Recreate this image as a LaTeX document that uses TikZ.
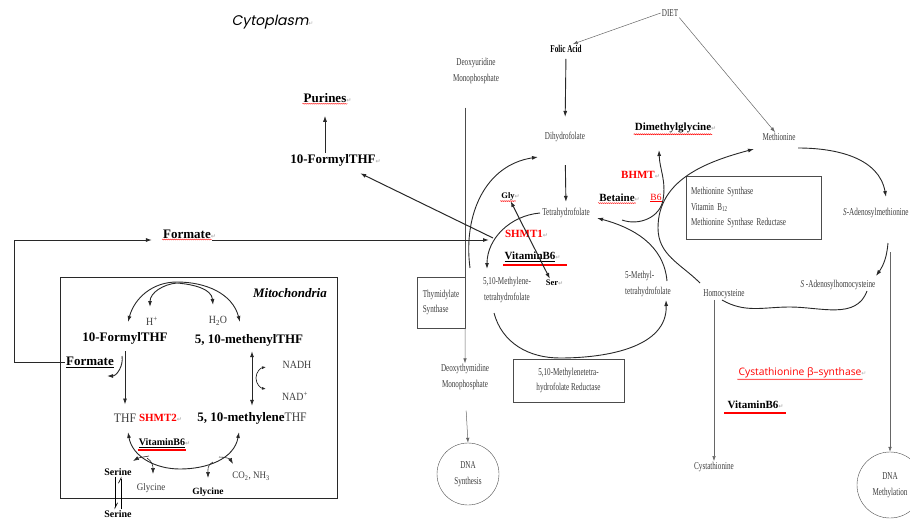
\documentclass[tikz,border=0pt]{standalone}
\usepackage{fontspec}
\setmainfont{Liberation Serif}
\newfontfamily\thinserif[FakeStretch=0.68]{Liberation Serif}
\newfontfamily\mitoserif[FakeStretch=0.9]{Liberation Serif}
\newfontfamily\cytofont[FakeSlant=0.2]{Poppins}
\newfontfamily\cbsfont{Open Sans}
\newfontfamily\markfont{DejaVu Sans}
\usetikzlibrary{arrows.meta,decorations.pathmorphing}
\definecolor{txtgray}{RGB}{60,60,60}
\definecolor{linegray}{RGB}{40,40,40}
\newcommand{\ret}{\rlap{\markfont\fontsize{6}{6}\selectfont\color{gray!60}↵}}

\tikzset{
  gry/.style={font=\thinserif\fontsize{10.5}{15.5}\selectfont, text=txtgray, align=center, inner sep=1pt},
  mgry/.style={font=\mitoserif\fontsize{11}{12}\selectfont, text=txtgray, inner sep=1pt},
  bld/.style={font=\bfseries\fontsize{13}{14}\selectfont, inner sep=1pt},
  sbld/.style={font=\bfseries\fontsize{11}{12}\selectfont, inner sep=1pt},
  enz/.style={font=\bfseries\fontsize{11}{12}\selectfont, text=red, inner sep=1pt},
  flow/.style={-{Latex[length=6pt,width=4pt]}, line width=0.9pt, linegray},
  twoway/.style={{Latex[length=6pt,width=4pt]}-{Latex[length=6pt,width=4pt]}, line width=0.9pt, linegray},
  thinflow/.style={-{Latex[length=5pt,width=3.5pt]}, line width=0.5pt, black!60},
  spell/.style={red, line width=0.4pt, decorate, decoration={snake, amplitude=0.5pt, segment length=2pt}},
  redline/.style={red, line width=2pt},
}

\begin{document}
\begin{tikzpicture}[x=1pt,y=1pt]
  \useasboundingbox (0,0) rectangle (910,-519);

  \node[font=\cytofont\fontsize{14}{16}\selectfont] (cyto) at (270,-22) {Cytoplasm\ret};

  % Folatzyklus
  \node[gry] (diet) at (670,-13) {DIET};
  \node[gry, font=\thinserif\bfseries\fontsize{10.5}{11}\selectfont, text=black] (folic) at (566,-49) {Folic Acid};
  \node[gry] (dump) at (476,-71) {Deoxyuridine\\Monophosphate};
  \node[gry] (dhf) at (565,-137) {Dihydrofolate};
  \node[gry] (thf) at (566,-213) {Tetrahydrofolate};
  \node[gry] (mthf) at (507,-290) {5,10-Methylene-\\tetrahydrofolate};
  \node[gry, align=left, anchor=west] (methyl) at (624,-284) {5-Methyl-\\tetrahydrofolate};
  \node[gry, draw=black!70, align=left, minimum width=48pt, minimum height=51pt] (ts) at (441,-302.5) {Thymidylate\\Synthase};
  \node[gry] (dtmp) at (465,-377) {Deoxythymidine\\Monophosphate};
  \node[gry, draw=black!70, circle, minimum size=62pt] (dnas) at (468,-474) {DNA\\Synthesis};
  \node[gry, draw=black!70, minimum width=111pt, minimum height=43pt] (mtr) at (568.5,-380.5) {5,10-Methylenetetra-\\hydrofolate Reductase};

  % Methioninzyklus
  \node[gry] (met) at (779,-137) {Methionine};
  \node[gry, draw=black!70, align=left, text width=125pt, minimum width=135pt, minimum height=63pt] (ms) at (753.5,-207.5) {Methionine Synthase\\Vitamin B\textsubscript{12}\\Methionine Synthase Reductase};
  \node[gry, anchor=west] (sam) at (842,-213) {\textit{S}-Adenosylmethionine};
  \node[gry] (sah) at (838,-285) {\textit{S} -Adenosylhomocysteine};
  \node[gry] (homocys) at (724,-294) {Homocysteine};
  \node[gry] (cysta) at (714,-467) {Cystathionine};
  \node[gry, draw=black!70, circle, minimum size=66pt] (dnam) at (890,-485) {DNA\\Methylation};
  \node[font=\cbsfont\fontsize{10.3}{11}\selectfont, text=red, inner sep=1pt] (cbs) at (800,-373) {Cystathionine β–synthase\ret};
  \node[sbld] (bsixr) at (753,-405) {VitaminB6\ret};

  % Formiat und Purine
  \node[bld] (purines) at (325,-98) {Purines\ret};
  \node[bld] (cfthf) at (333,-160) {10-FormylTHF\ret};
  \node[bld] (cfor) at (187,-234) {Formate\ret};
  \node[sbld] (dmg) at (673,-128) {Dimethylglycine\ret};
  \node[enz] (bhmt) at (638,-175) {BHMT\ret};
  \node[sbld] (betaine) at (617,-198) {Betaine\ret};
  \node[font=\fontsize{9.5}{10}\selectfont, text=red, inner sep=1pt] (bsix) at (656,-198) {\underline{B6}};
  \node[font=\bfseries\fontsize{8.5}{9}\selectfont, inner sep=1pt] (gly) at (508,-196) {Gly\ret};
  \node[font=\bfseries\fontsize{8.5}{9}\selectfont, inner sep=1pt] (ser) at (552,-283) {Ser\ret};
  \node[enz] (shmtone) at (524,-234) {SHMT1\ret};
  \node[sbld] (bsixc) at (530,-257) {\underline{VitaminB6}\ret};

  % Mitochondrien
  \draw[line width=1pt, linegray] (60,-277) rectangle (337,-498);
  \node[font=\bfseries\itshape\fontsize{13}{14}\selectfont] (mito) at (290,-293) {Mitochondria};
  \node[bld] (mfthf) at (125,-338) {10-FormylTHF};
  \node[bld] (mmthf) at (249,-340) {5, 10-methenylTHF};
  \node[mgry] (hplus) at (152,-321) {H\textsuperscript{+}};
  \node[mgry] (water) at (218,-321) {H\textsubscript{2}O};
  \node[bld] (mfor) at (90,-362) {\underline{Formate}};
  \node[mgry, font=\mitoserif\fontsize{13}{14}\selectfont] (mthf2) at (125,-418) {THF};
  \node[enz] (shmttwo) at (158,-418) {SHMT2\ret};
  \node[bld] (mlthf) at (252,-418) {5, 10-methylene{\mdseries\mitoserif\color{txtgray}THF}};
  \node[mgry] (nadh) at (297,-365) {NADH};
  \node[mgry] (nad) at (295,-396) {NAD\textsuperscript{+}};
  \node[font=\bfseries\fontsize{10}{11}\selectfont, inner sep=1pt] (mbsix) at (162,-443) {\underline{VitaminB6}\ret};
  \node[font=\bfseries\fontsize{10}{11}\selectfont, inner sep=1pt] (mser) at (118,-472) {Serine};
  \node[mgry, font=\mitoserif\fontsize{10}{11}\selectfont] (mgly) at (151,-488) {Glycine};
  \node[font=\bfseries\fontsize{9.5}{10}\selectfont, inner sep=1pt] (mglyb) at (208,-492) {Glycine};
  \node[mgry, font=\mitoserif\fontsize{10}{11}\selectfont] (co) at (251,-476) {CO\textsubscript{2}, NH\textsubscript{3}};
  \node[font=\bfseries\fontsize{10}{11}\selectfont, inner sep=1pt] (msertwo) at (118,-514) {Serine};

  % Kurvenenden
  \coordinate (mix) at (489,-240);
  \coordinate (tsA) at (470,-268);
  \coordinate (tsB) at (538,-157);
  \coordinate (thfA) at (540,-213);
  \coordinate (thfB) at (487,-269);
  \coordinate (redA) at (494,-313);
  \coordinate (redB) at (666,-300);
  \coordinate (mtA) at (667,-281);
  \coordinate (mtB) at (597,-218);
  \coordinate (betA) at (622,-220);
  \coordinate (betB) at (659,-150);
  \coordinate (hcA) at (700,-283);
  \coordinate (hcB) at (754,-149);
  \coordinate (samA) at (798,-148);
  \coordinate (samB) at (886,-197);
  \coordinate (sahA) at (888,-243);
  \coordinate (sahB) at (876,-276);
  \coordinate (hoA) at (867,-291);
  \coordinate (hoB) at (722,-300);

  % Unterstreichungen
  \draw[spell] (purines.south west) -- (purines.south east);
  \draw[spell] (cfor.south west) -- (cfor.south east);
  \draw[spell] (dmg.south west) -- (dmg.south east);
  \draw[spell] (betaine.south west) -- (betaine.south east);
  \draw[spell] (gly.south west) -- (gly.south east);
  \draw[spell] (cbs.south west) -- (cbs.south east);
  \draw[redline] ([yshift=-2pt]bsixc.south west) -- ([yshift=-2pt,xshift=10pt]bsixc.south east);
  \draw[redline] ([yshift=-3pt,xshift=-2pt]bsixr.south west) -- ([yshift=-3pt,xshift=6pt]bsixr.south east);
  \draw[redline] ([yshift=-1pt]mbsix.south west) -- ([yshift=-1pt]mbsix.south east);

  % Relationen Zytoplasma
  \draw[thinflow] (diet.west) -- ([xshift=-10pt]folic.north east);
  \draw[thinflow] (diet.south east) -- ([xshift=-4pt]met.north);
  \draw[flow, shorten <=5pt, shorten >=14pt] (folic.south) -- (dhf.north);
  \draw[flow, shorten <=22pt, shorten >=5pt] (dhf.south) -- (thf.north);
  \draw[line width=0.6pt, black!70, shorten <=23pt] (ts.east |- dump.south) -- (ts.north east);
  \draw[thinflow] (ts.south east) -- (dtmp.north);
  \draw[thinflow, shorten <=20pt] (dtmp.south) -- (dnas.north);
  \draw[flow] (tsA) .. controls (463,-215) and (485,-165) .. (tsB);
  \draw[flow] (thfA) to[out=185,in=90] (thfB);
  \draw[flow] (redA) to[out=-75,in=180] (560,-358) to[out=0,in=-88] (redB);
  \draw[flow] (mtA) to[out=95,in=-15] (mtB);
  \draw[flow] (betA) to[out=-20,in=-100] (663,-200) to[out=80,in=-88] (betB);
  \draw[flow] (hcA) to[out=135,in=-90] (658,-228) to[out=90,in=195] (hcB);
  \draw[flow] (samA) to[out=0,in=100] (samB);
  \draw[flow] (sahA) to[out=-95,in=55] (sahB);
  \draw[line width=0.9pt, linegray] (hoA) to[out=-110,in=0] (790,-307) to[out=180,in=-30] (hoB);
  \draw[thinflow] (890,-252) -- (dnam.north);
  \draw[thinflow] (homocys.south -| cysta.north) -- (cysta.north);
  \draw[twoway, line width=1pt] (gly) -- (ser);
  \draw[flow, line width=1pt] (cfor.east |- mix) -- (mix);
  \draw[flow, line width=1pt, shorten >=14pt] ([shift={(4,2)}]mix) -- (cfthf);
  \draw[flow, shorten >=12pt] (purines.south |- cfthf.north) -- (purines.south);
  \draw[flow, line width=1pt, shorten >=10pt] (mfor.west) -- ++(-50,0) |- ([yshift=-6pt]cfor.west);

  % Relationen Mitochondrien
  \draw[twoway] (128,-322) to[out=75,in=180] (177,-282) to[out=0,in=105] (240,-322);
  \draw[twoway] (150,-307) to[out=90,in=185] (177,-283) to[out=-5,in=95] (213,-305);
  \draw[flow, shorten <=6pt, shorten >=8pt] (mfthf.south) -- (mthf2.north);
  \draw[flow] (122,-356) to[out=-80,in=0] (107,-376);
  \draw[twoway, shorten <=4pt, shorten >=5pt] (mlthf.north |- mmthf.south) -- (mlthf.north);
  \draw[{Latex[length=4pt,width=3pt]}-{Latex[length=4pt,width=3pt]}, linegray, line width=0.7pt] (266,-367) to[out=190,in=90] (256,-378) to[out=-90,in=170] (266,-389);
  \draw[twoway] (239,-432) to[out=-100,in=0] (180,-469) to[out=180,in=-80] (128,-432);
  \draw[flow, line width=0.6pt] (149,-456) to[out=190,in=30] (133,-461);
  \draw[flow, line width=0.6pt] (147,-458) to[out=-30,in=90] (153,-474);
  \draw[flow, line width=0.6pt] (219,-457) to[out=0,in=120] (233,-464);
  \draw[flow, line width=0.6pt] (213,-462) to[out=200,in=90] (208,-478);
  \draw[-{Straight Barb[left,length=5pt,width=5pt]}, line width=0.7pt] ([xshift=-3pt]mser.south) -- ([xshift=-3pt]msertwo.north);
  \draw[-{Straight Barb[left,length=5pt,width=5pt]}, line width=0.7pt] ([xshift=3pt]msertwo.north) -- ([xshift=3pt]mser.south);
\end{tikzpicture}
\end{document}
